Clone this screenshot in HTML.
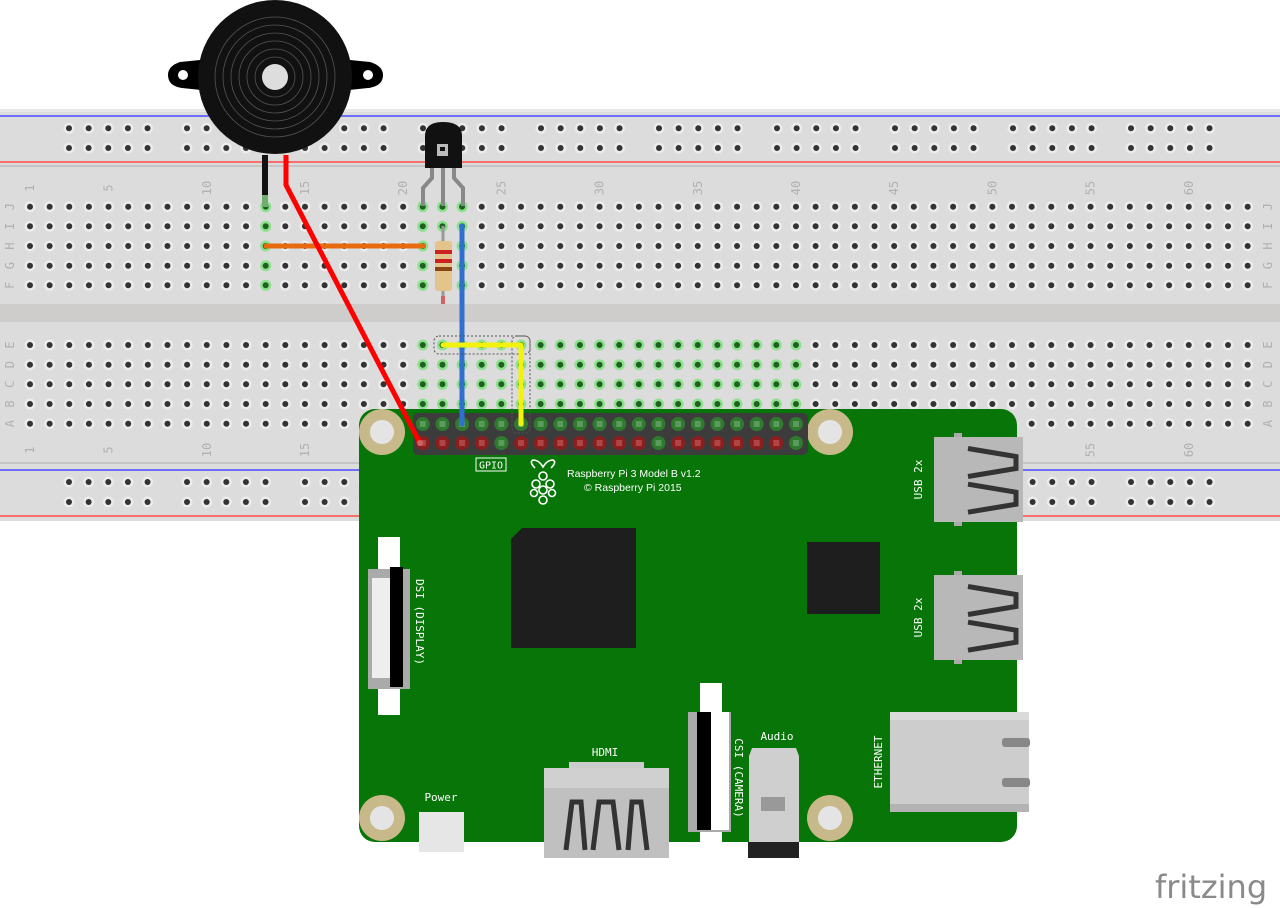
<!DOCTYPE html>
<html><head><meta charset="utf-8"><style>
html,body{margin:0;padding:0;background:#fff;width:1280px;height:908px;overflow:hidden}
svg{display:block}
text{font-family:"DejaVu Sans Mono","Liberation Mono",monospace}
</style></head><body>
<svg id="s" width="1280" height="908" viewBox="0 0 1280 908" xmlns="http://www.w3.org/2000/svg">
<rect x="0" y="109" width="1280" height="412" fill="#dcdcdc"/>
<rect x="0" y="109" width="1280" height="3" fill="#e8e8e8"/>
<line x1="0" y1="116" x2="1280" y2="116" stroke="#4a4aff" stroke-width="1.5"/>
<line x1="0" y1="162" x2="1280" y2="162" stroke="#ff4a4a" stroke-width="1.5"/>
<line x1="0" y1="166" x2="1280" y2="166" stroke="#bdbdbd" stroke-width="1.5"/>
<rect x="0" y="304" width="1280" height="18" fill="#cfcdcb"/>
<line x1="0" y1="463" x2="1280" y2="463" stroke="#bdbdbd" stroke-width="1.5"/>
<line x1="0" y1="470" x2="1280" y2="470" stroke="#4a4aff" stroke-width="1.5"/>
<line x1="0" y1="516" x2="1280" y2="516" stroke="#ff4a4a" stroke-width="1.5"/>
<g id="holes"></g>
<g id="labels" fill="#b0b0b0" font-size="12"></g>
<rect x="359" y="409" width="658" height="433" rx="16" fill="#077507"/>
<g fill="#c8b98a"><circle cx="382" cy="432" r="23"/><circle cx="830" cy="432" r="23"/><circle cx="382" cy="818" r="23"/><circle cx="830" cy="818" r="23"/></g>
<g fill="#e4e4e4"><circle cx="382" cy="432" r="12"/><circle cx="830" cy="432" r="12"/><circle cx="382" cy="818" r="12"/><circle cx="830" cy="818" r="12"/></g>
<rect x="413" y="413" width="395" height="42" rx="5" fill="#3c3c3c"/>
<g id="pins"></g>
<rect x="476" y="458" width="30" height="13" fill="none" stroke="#fff" stroke-width="1"/>
<text x="491" y="468.5" fill="#fff" font-size="10" text-anchor="middle">GPIO</text>
<text x="567" y="477" fill="#fff" font-size="10.5" style="font-family:'Liberation Sans',sans-serif">Raspberry Pi 3 Model B v1.2</text>
<text x="584" y="491" fill="#fff" font-size="10.5" style="font-family:'Liberation Sans',sans-serif">© Raspberry Pi 2015</text>
<g fill="none" stroke="#fff" stroke-width="1.6">
<path d="M535 468 q-6 -6 -2 -8 q6 0 10 7 q4 -7 10 -7 q4 2 -2 8"/>
<circle cx="543" cy="476" r="4"/><circle cx="536" cy="484" r="4"/><circle cx="550" cy="484" r="4"/><circle cx="543" cy="490" r="4"/><circle cx="534" cy="493" r="3.5"/><circle cx="552" cy="493" r="3.5"/><circle cx="543" cy="500" r="4"/>
</g>
<path d="M522 528 H636 V648 H511 V539 Z" fill="#1e1e1e"/>
<rect x="807" y="542" width="73" height="72" fill="#1e1e1e"/>
<rect x="378" y="537" width="22" height="178" fill="#fff"/>
<rect x="368" y="569" width="42" height="120" fill="#aaa"/>
<rect x="372" y="578" width="20" height="100" fill="#eee"/>
<rect x="390" y="567" width="13" height="120" fill="#000"/>
<text transform="translate(416,622) rotate(90)" fill="#fff" font-size="11" text-anchor="middle">DSI (DISPLAY)</text>
<rect x="700" y="683" width="22" height="160" fill="#fff"/>
<rect x="688" y="712" width="43" height="120" fill="#aaa"/>
<rect x="697" y="712" width="14" height="118" fill="#000"/>
<rect x="711" y="712" width="18" height="118" fill="#fff"/>
<text transform="translate(735,778) rotate(90)" fill="#fff" font-size="11" text-anchor="middle">CSI (CAMERA)</text>
<text x="605" y="756" fill="#fff" font-size="11" text-anchor="middle">HDMI</text>
<rect x="569" y="762" width="75" height="7" fill="#ccc"/>
<rect x="544" y="768" width="125" height="90" fill="#c0c0c0"/>
<rect x="544" y="768" width="125" height="20" fill="#d0d0d0"/>
<path d="M566 850 L572 802 L581 802 L585 850 M593 850 L599 802 L613 802 L619 850 M628 850 L632 802 L641 802 L647 850" fill="none" stroke="#333" stroke-width="5"/>
<text x="441" y="801" fill="#fff" font-size="11" text-anchor="middle">Power</text>
<rect x="419" y="812" width="45" height="40" fill="#e6e6e6"/>
<text x="777" y="740" fill="#fff" font-size="11" text-anchor="middle">Audio</text>
<path d="M752 748 H796 L799 756 V842 H749 V756 Z" fill="#cfcfcf"/>
<rect x="761" y="797" width="24" height="14" fill="#999"/>
<rect x="748" y="842" width="51" height="16" fill="#222"/>
<g id="usb"></g>
<rect x="890" y="712" width="139" height="100" fill="#cdcdcd"/>
<rect x="890" y="712" width="139" height="8" fill="#dadada"/>
<rect x="890" y="804" width="139" height="8" fill="#b3b3b3"/>
<rect x="1002" y="738" width="28" height="9" rx="3" fill="#888"/>
<rect x="1002" y="778" width="28" height="9" rx="3" fill="#888"/>
<text transform="translate(882,762) rotate(-90)" fill="#fff" font-size="11" text-anchor="middle">ETHERNET</text>
<path d="M180 62 Q168 66 168 75 Q168 86 182 88 L220 92 L220 58 Z" fill="#000"/>
<path d="M370 62 Q383 66 383 75 Q383 86 368 88 L330 92 L330 58 Z" fill="#000"/>
<circle cx="183" cy="75" r="5" fill="#fff"/><circle cx="368" cy="75" r="5" fill="#fff"/>
<circle cx="275" cy="77" r="77" fill="#111"/>
<g fill="none" stroke="#555" stroke-width="0.8"><circle cx="275" cy="77" r="60"/><circle cx="275" cy="77" r="52"/><circle cx="275" cy="77" r="44"/><circle cx="275" cy="77" r="36"/><circle cx="275" cy="77" r="28"/><circle cx="275" cy="77" r="20"/></g>
<circle cx="275" cy="77" r="13" fill="#ddd"/>
<rect x="262" y="155" width="6" height="50" fill="#111"/>
<rect x="262" y="195" width="6" height="12" fill="#6fae6f"/>
<g fill="none" stroke="#888" stroke-width="4"><path d="M432 168 L432 178 L423 188 V206"/><path d="M443 168 V206"/><path d="M454 168 L454 178 L463 188 V206"/></g>
<path d="M425 168 V136 Q425 122 443 122 Q462 122 462 136 V168 Z" fill="#111"/>
<rect x="437" y="144" width="11" height="12" fill="#bbb"/><rect x="440" y="147" width="5" height="4" fill="#111"/>
<line x1="443" y1="226" x2="443" y2="304" stroke="#999" stroke-width="3"/>
<rect x="441" y="296" width="4" height="8" fill="#c66"/>
<rect x="435" y="241" width="17" height="50" rx="3" fill="#e3c48a"/>
<rect x="435" y="250" width="17" height="4" fill="#c22"/><rect x="435" y="259" width="17" height="4" fill="#c22"/><rect x="435" y="267" width="17" height="4" fill="#8b4513"/>
<line x1="266" y1="246" x2="423" y2="246" stroke="#e86a10" stroke-width="5" stroke-linecap="round"/>
<line x1="462" y1="226" x2="462" y2="424" stroke="#2e6fd0" stroke-width="5" stroke-linecap="round"/>
<rect x="434" y="336" width="96" height="18" rx="5" fill="none" stroke="#555" stroke-dasharray="2,2"/>
<rect x="512" y="336" width="18" height="97" rx="5" fill="none" stroke="#555" stroke-dasharray="2,2"/>
<path d="M443 345 H521 V424" fill="none" stroke="#f2f20c" stroke-width="5" stroke-linecap="round" stroke-linejoin="round"/>
<path d="M286 155 V185 L421 445" fill="none" stroke="#f00" stroke-width="5" stroke-linejoin="round"/>
<circle cx="420" cy="443" r="3" fill="#c66"/>
<text x="1155" y="898" fill="#8a8a8a" font-size="32" style="font-family:'DejaVu Sans',sans-serif">fritzing</text>
</svg>
<script>
(function(){
var NS="http://www.w3.org/2000/svg";
function el(p,t,a){var e=document.createElementNS(NS,t);for(var k in a)e.setAttribute(k,a[k]);p.appendChild(e);return e;}
var H=document.getElementById("holes"),L=document.getElementById("labels"),P=document.getElementById("pins"),U=document.getElementById("usb");
function cx(n){return 30+(n-1)*19.64;}
var topR=[206.7,226.3,246,265.7,285.3],botR=[345,364.7,384.3,404,423.7];
function green(n,r,lower){if(!lower){return n==13||n==21||n==22||n==23;}return n>=21&&n<=40&&r<4;}
for(var n=1;n<=63;n++){
 for(var i=0;i<5;i++){
  [[topR[i],false],[botR[i],true]].forEach(function(q){
   var g=green(n,i,q[1]);
   el(H,"circle",{cx:cx(n),cy:q[0],r:5.5,fill:g?"#8de08d":"#ececec"});
   el(H,"circle",{cx:cx(n),cy:q[0],r:3,fill:g?"#1f5f1f":"#333"});
  });
 }
}
for(var g=0;g<10;g++)for(var k=0;k<5;k++){var x=69+g*118+k*19.64;
 [128.3,148,482,502].forEach(function(y){el(H,"circle",{cx:x,cy:y,r:5.5,fill:"#ececec"});el(H,"circle",{cx:x,cy:y,r:3,fill:"#333"});});}
var nums=[1,5,10,15,20,25,30,35,40,45,50,55,60];
nums.forEach(function(n){[188,450].forEach(function(y){var t=el(L,"text",{transform:"translate("+(cx(n)+4)+","+y+") rotate(-90)","text-anchor":"middle"});t.textContent=n;});});
var lt="JIHGF",lb="EDCBA";
for(var i=0;i<5;i++){[[topR[i],lt[i]],[botR[i],lb[i]]].forEach(function(q){[14,1272].forEach(function(x){var t=el(L,"text",{transform:"translate("+x+","+q[0]+") rotate(-90)","text-anchor":"middle"});t.textContent=q[1];});});}
var greenBot={25:1,33:1,40:1};
for(var n=21;n<=40;n++){
 el(P,"circle",{cx:cx(n),cy:424,r:7,fill:"#2f7a2f"});
 el(P,"rect",{x:cx(n)-3,y:421,width:6,height:6,fill:"#5a9a5a"});
 var gb=greenBot[n];
 el(P,"circle",{cx:cx(n),cy:443,r:7,fill:gb?"#2f7a2f":"#8a1f1f"});
 el(P,"rect",{x:cx(n)-3,y:440,width:6,height:6,fill:gb?"#5a9a5a":"#b04545"});
}
[[437,522],[575,660]].forEach(function(u){var y0=u[0],h=u[1]-u[0];
 el(U,"rect",{x:954,y:y0-4,width:8,height:h+8,fill:"#aaa"});
 el(U,"rect",{x:934,y:y0,width:89,height:h,fill:"#b8b8b8"});
 var m=y0+h*0.3,m2=y0+h*0.72;
 [m,m2].forEach(function(c){el(U,"path",{d:"M968 "+(c-14)+" L1016 "+(c-6)+" L1016 "+(c+6)+" L968 "+(c+14),fill:"none",stroke:"#333","stroke-width":"5"});});
 var t=el(U,"text",{transform:"translate(922,"+(y0+h/2)+") rotate(-90)",fill:"#fff","font-size":"11","text-anchor":"middle"});t.textContent="USB 2x";
});
})();
</script>
</body></html>
